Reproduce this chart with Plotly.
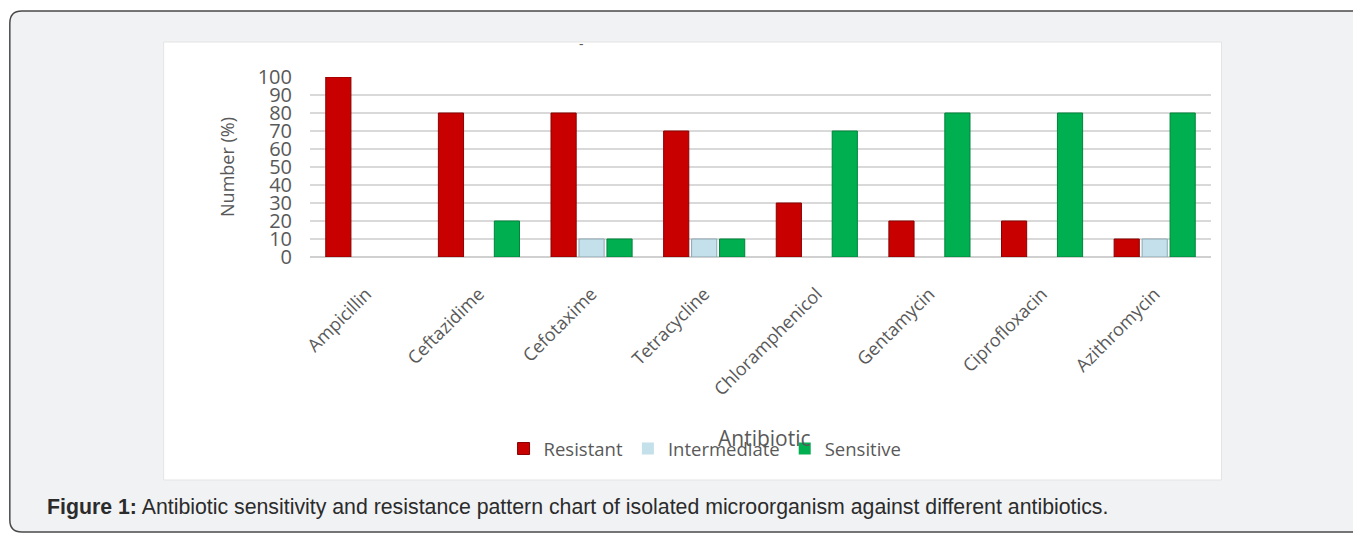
import plotly.graph_objects as go

antibiotics = ["Ampicillin", "Ceftazidime", "Cefotaxime", "Tetracycline",
               "Chloramphenicol", "Gentamycin", "Ciprofloxacin", "Azithromycin"]
resistant = [100, 80, 80, 70, 30, 20, 20, 10]
intermediate = [0, 0, 10, 10, 0, 0, 0, 10]
sensitive = [0, 20, 10, 10, 70, 80, 80, 80]
y_ticks = list(range(0, 101, 10))

# page offset caused by the default body margin of the html page
OFF = 8
W, H = 1361 - OFF, 533 - OFF
# plot area in page pixels
PX0, PX1, PY0, PY1 = 309.5, 1211.5, 77, 257
ML, MR, MT = PX0 - OFF, (OFF + W) - PX1, PY0 - OFF
MB = (OFF + H) - PY1
PW = PX1 - PX0
PH = PY1 - PY0


def px_x(p):
    return (p - PX0) / PW


def px_y(p):
    return (PY1 - p) / PH


GRAY = "#595959"
FONT = "Open Sans"

fig = go.Figure()
series = [
    ("Resistant", resistant, "#c80000", "#8a0000"),
    ("Intermediate", intermediate, "#c4e0ea", "#8ea7b3"),
    ("Sensitive", sensitive, "#00b050", "#00833b"),
]
for name, vals, col, edge in series:
    fig.add_trace(go.Bar(
        x=antibiotics, y=vals, name=name,
        marker=dict(color=col, line=dict(color=edge, width=[1 if v else 0 for v in vals])),
    ))


def P(x, y):
    return f"{px_x(x):.5f},{px_y(y):.5f}"


frame_path = (f"M {P(9, 520)} L {P(9, 23)} Q {P(9, 11)} {P(21, 11)} "
              f"L {P(1380, 11)} L {P(1380, 532)} L {P(21, 532)} Q {P(9, 532)} {P(9, 520)} Z")

shapes = [
    dict(type="path", path=frame_path, xref="paper", yref="paper",
         fillcolor="#f1f2f4", line=dict(color="#4a4a4a", width=1.5), layer="below"),
    dict(type="rect", xref="paper", yref="paper",
         x0=px_x(163), x1=px_x(1222), y0=px_y(480), y1=px_y(42),
         fillcolor="#ffffff", line=dict(color="#e4e4e4", width=1), layer="below"),
]

annotations = [
    dict(text="Antibiotic", xref="paper", yref="paper", x=px_x(765), y=px_y(438),
         showarrow=False, xanchor="center", yanchor="middle",
         font=dict(family=FONT, size=21, color=GRAY)),
    dict(text="<b>Figure 1:</b> Antibiotic sensitivity and resistance pattern chart of isolated microorganism against different antibiotics.",
         xref="paper", yref="paper", x=px_x(44), y=px_y(507),
         showarrow=False, xanchor="left", yanchor="middle",
         font=dict(family="Liberation Sans", size=21.3, color="#2b2b2b")),
    dict(text="-", xref="paper", yref="paper", x=px_x(581), y=px_y(43),
         showarrow=False, xanchor="center", yanchor="middle",
         font=dict(family=FONT, size=14, color=GRAY)),
]

fig.update_layout(
    width=W, height=H,
    margin=dict(l=ML, r=MR, t=MT, b=MB, autoexpand=False),
    paper_bgcolor="#ffffff",
    plot_bgcolor="rgba(0,0,0,0)",
    barmode="group",
    bargap=0.255,
    bargroupgap=0.1,
    shapes=shapes,
    annotations=annotations,
    showlegend=True,
    legend=dict(orientation="h", x=px_x(705), y=px_y(449), xanchor="center", yanchor="middle",
                font=dict(family=FONT, size=18.5, color=GRAY), bgcolor="rgba(0,0,0,0)",
                itemwidth=30, tracegroupgap=0),
    xaxis=dict(tickangle=-45, tickfont=dict(family=FONT, size=18, color=GRAY),
               showgrid=False, showline=False, ticks="", ticklabelstandoff=22),
    yaxis=dict(range=[0, 100], tickvals=y_ticks, ticktext=[str(v) for v in y_ticks],
               tickfont=dict(family=FONT, size=20, color=GRAY),
               showgrid=True, gridcolor="#d9d9d9", gridwidth=1.5,
               zeroline=True, zerolinecolor="#d0d0d0", zerolinewidth=1.5,
               ticks="", ticklabelstandoff=17,
               title=dict(text="Number (%)", font=dict(family=FONT, size=18, color=GRAY), standoff=18)),
)

fig.write_html("out.html")
